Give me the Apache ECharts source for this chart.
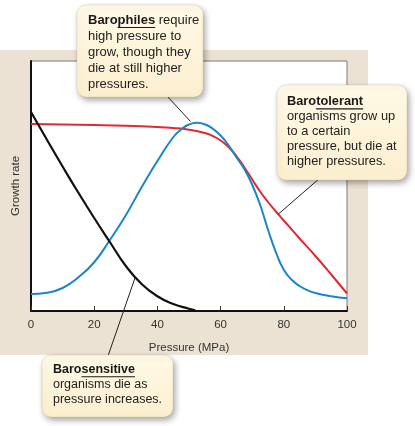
<!DOCTYPE html>
<html>
<head>
<meta charset="utf-8">
<script src="https://cdn.jsdelivr.net/npm/echarts@6/dist/echarts.min.js"></script>
<style>
html,body{margin:0;padding:0;background:#fff;}
#c{width:415px;height:426px;}
</style>
</head>
<body>
<div id="c"></div>
<script>
// ---- data ----
const sensitiveP = [0,5,10,15,20,25,30,35,40,45,50,52];
const barosensitive = [79.6,68.6,57.8,47.3,37.2,27.5,18,10.8,5.9,2.8,0.9,0.3];
const philesP = [0,5,10,15,20,25,30,35,40,45,47.5,50,52.5,55,57.5,60,62.5,65,67.5,70,72.5,75,77.5,80,82.5,85,87.5,90,95,100];
const barophiles = [6.8,7.3,9.2,13.5,19.5,28.5,38.3,49.5,60,69.5,72.6,74.6,75.3,74.7,72.9,70.2,66.3,61.5,56.8,50.5,42.5,32.5,23.5,16.5,12.5,10,8.3,7.2,5.9,5.1];
const tolerantP = [0,10,20,30,40,45,50,55,57.5,60,62.5,65,67.5,70,72.5,75,77.5,80,85,90,95,100];
const barotolerant = [74.8,74.6,74.4,74.1,73.6,73.2,72.5,71.2,70,68.2,65.6,62,57.5,52.6,47.8,43.6,39.8,36.2,29,22,14.6,7];
const xTicks = [0,20,40,60,80,100];

const chart = echarts.init(document.getElementById('c'), null, {renderer:'canvas'});
const FONT = '"Liberation Sans", Arial, Helvetica, sans-serif';

function pairs(xs, ys){ return xs.map((x,i)=>[x, ys[i]]); }

chart.setOption({
  animation:false,
  backgroundColor:'#ffffff',
  grid:{left:31,right:68,top:61,bottom:115,show:true,backgroundColor:'#ffffff',borderColor:'#7a7a7a',borderWidth:1},
  xAxis:{type:'value',min:0,max:100,interval:20,
    name:'Pressure (MPa)',nameLocation:'middle',nameGap:31,
    nameTextStyle:{fontFamily:FONT,fontSize:11.5,color:'#333'},
    axisLine:{lineStyle:{color:'#111',width:2}},
    axisTick:{inside:true,length:5,lineStyle:{color:'#333',width:1}},
    axisLabel:{fontFamily:FONT,fontSize:11.5,color:'#333',margin:8,
      formatter:v=>xTicks.indexOf(v)>=0?String(v):''},
    splitLine:{show:false}},
  yAxis:{type:'value',min:0,max:100,
    name:'Growth rate',nameLocation:'middle',nameGap:9,nameRotate:90,
    nameTextStyle:{fontFamily:FONT,fontSize:11.5,color:'#333'},
    axisLine:{show:true,lineStyle:{color:'#111',width:2}},
    axisTick:{show:false},axisLabel:{show:false},splitLine:{show:false}},
  series:[
    {type:'line',name:'Barotolerant',data:pairs(tolerantP,barotolerant),smooth:0.5,showSymbol:false,
      lineStyle:{color:'#e02a33',width:2},z:3},
    {type:'line',name:'Barophiles',data:pairs(philesP,barophiles),smooth:0.5,showSymbol:false,
      lineStyle:{color:'#1b86c4',width:2},z:4},
    {type:'line',name:'Barosensitive',data:pairs(sensitiveP,barosensitive),smooth:0.5,showSymbol:false,
      lineStyle:{color:'#111111',width:2.2},z:5}
  ]
});

// --- annotations ---
const ctx = document.createElement('canvas').getContext('2d');
function tw(text, size, bold){ ctx.font=(bold?'bold ':'')+size+'px "Liberation Sans", Arial, sans-serif'; return ctx.measureText(text).width; }

function box(b){
  const els = [];
  els.push({type:'rect',z:100,shape:{x:b.x,y:b.y,width:b.w,height:b.h,r:9},
    style:{fill:new echarts.graphic.LinearGradient(0,0,0,1,[{offset:0,color:'#fff9e6'},{offset:1,color:'#fcefcf'}]),
      stroke:'rgba(200,185,150,0.6)',lineWidth:0.5,
      shadowBlur:6,shadowOffsetX:2,shadowOffsetY:3,shadowColor:'rgba(0,0,0,0.35)'}});
  const rich = {
    b:{fontFamily:FONT,fontSize:b.fs,fontWeight:'bold',fill:'#1a1a1a',lineHeight:b.lh},
    n:{fontFamily:FONT,fontSize:b.fs,fill:'#222',lineHeight:b.lh}
  };
  let text = '{b|'+b.bold1+b.bold2+'}' + (b.rest1?'{n|'+b.rest1+'}':'');
  b.lines.forEach(l=>{ text += '\n{n|'+l+'}'; });
  els.push({type:'text',z:101,style:{x:b.tx,y:b.ty,text:text,rich:rich,verticalAlign:'top',align:'left'}});
  const u0 = b.tx + tw(b.bold1,b.fs,true);
  const u1 = u0 + tw(b.bold2,b.fs,true);
  const uy = b.ty + b.lh/2 + b.fs*0.5 + 1;
  els.push({type:'line',z:102,shape:{x1:u0,y1:uy,x2:u1,y2:uy},style:{stroke:'#1a1a1a',lineWidth:1.2}});
  return els;
}

function ptr(x1,y1,data){
  const p = chart.convertToPixel({gridIndex:0}, data);
  return {type:'line',z:99,shape:{x1:x1,y1:y1,x2:p[0],y2:p[1]},style:{stroke:'#222',lineWidth:1}};
}

const graphics = [
  {type:'rect',z:-100,silent:true,shape:{x:0,y:50,width:368,height:305},style:{fill:'#ece2d3'}},
  ptr(167,96,[50.5,75.8]),
  ptr(320,178,[78.3,38.8]),
  ptr(108,356,[32.9,13.2])
].concat(
  box({x:77,y:5,w:126,h:92,tx:88,ty:12,fs:13,lh:16,bold1:'Baro',bold2:'philes',rest1:' require',
       lines:['high pressure to','grow, though they','die at still higher','pressures.']}),
  box({x:277,y:85,w:130,h:95,tx:287,ty:94,fs:12.8,lh:15,bold1:'Baro',bold2:'tolerant',rest1:'',
       lines:['organisms grow up','to a certain','pressure, but die at','higher pressures.']}),
  box({x:42,y:355,w:131,h:62,tx:53,ty:362,fs:12.5,lh:15,bold1:'Baro',bold2:'sensitive',rest1:'',
       lines:['organisms die as','pressure increases.']})
);

chart.setOption({graphic:{elements:graphics}});
</script>
</body>
</html>
